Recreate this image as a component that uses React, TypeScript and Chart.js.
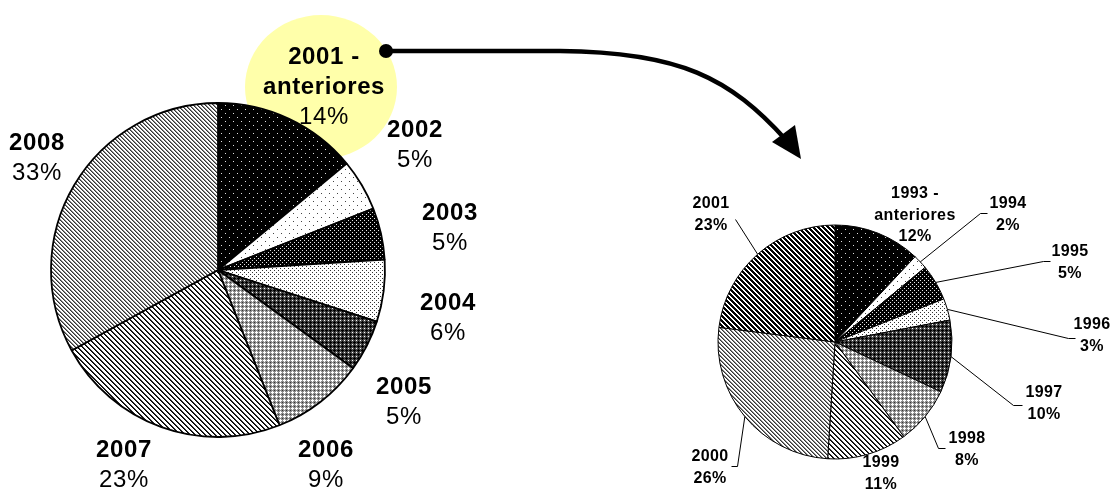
import React, { useEffect, useRef } from "react";
import { Chart, registerables } from "chart.js";

Chart.register(...registerables);

const W = 1115;
const H = 492;

// ---- data ----
const recentCategories = ["2001 - anteriores", "2002", "2003", "2004", "2005", "2006", "2007", "2008"];
const recentShares = [14, 5, 5, 6, 5, 9, 23, 33];
const recentYearLines = [["2001 -", "anteriores"], ["2002"], ["2003"], ["2004"], ["2005"], ["2006"], ["2007"], ["2008"]];

const olderCategories = ["1993 - anteriores", "1994", "1995", "1996", "1997", "1998", "1999", "2000", "2001"];
const olderShares = [12, 2, 5, 3, 10, 8, 11, 26, 23];
const olderYearLines = [["1993 -", "anteriores"], ["1994"], ["1995"], ["1996"], ["1997"], ["1998"], ["1999"], ["2000"], ["2001"]];

// ---- layout (not data) ----
const LEFT_CENTER = { x: 218, y: 270, r: 167 };
const RIGHT_CENTER = { x: 835, y: 342, r: 117 };

// label anchor [x, firstLineY]
const recentLabelPos = [
  [324, 57], [415, 130], [450, 213], [448, 303], [404, 387], [326, 450], [124, 450], [37, 143],
];
const olderLabelPos = [
  [915, 194], [1008, 204], [1070, 252], [1092, 325], [1044, 393], [967, 439], [881, 463], [710, 457], [711, 204],
];
// leader line bends: null = no leader; otherwise list of points after the arc point
const olderLeaders: (number[][] | null)[] = [
  null,
  [[980, 213], [987, 213]],
  [[1043, 261], [1050, 261]],
  [[1068, 338], [1075, 338]],
  [[1013, 405], [1022, 405]],
  [[938, 448], [945, 448]],
  null,
  [[737, 466], [731, 466]],
  [[735, 219]],
];

const FONT = '"Liberation Sans", Arial, Helvetica, sans-serif';

function mod(a: number, n: number) {
  return ((a % n) + n) % n;
}

function makeTile(
  ctx: CanvasRenderingContext2D,
  w: number,
  h: number,
  bg: string,
  fn: (x: number, y: number) => string | null
): CanvasPattern {
  const c = document.createElement("canvas");
  c.width = w;
  c.height = h;
  const g = c.getContext("2d")!;
  g.fillStyle = bg;
  g.fillRect(0, 0, w, h);
  for (let y = 0; y < h; y++) {
    for (let x = 0; x < w; x++) {
      const col = fn(x, y);
      if (col) {
        g.fillStyle = col;
        g.fillRect(x, y, 1, 1);
      }
    }
  }
  return ctx.createPattern(c, "repeat")!;
}

function makePatterns(ctx: CanvasRenderingContext2D): CanvasPattern[] {
  const sparse = (x: number, y: number) => (x === 1 && y === 1) || (x === 5 && y === 5);
  const dense = (x: number, y: number) => (x === 0 && y === 0) || (x === 2 && y === 2);
  return [
    makeTile(ctx, 8, 8, "#000", (x, y) => (sparse(x, y) ? "#e0e0e0" : null)),
    makeTile(ctx, 8, 8, "#fff", (x, y) => (sparse(x, y) ? "#444" : null)),
    makeTile(ctx, 4, 4, "#000", (x, y) => (dense(x, y) ? "#e8e8e8" : null)),
    makeTile(ctx, 4, 4, "#fff", (x, y) => (dense(x, y) ? "#333" : null)),
    makeTile(ctx, 4, 4, "#4a4a4a", (x, y) => {
      if (x === 0 && y === 0) return "#fff";
      if ((x === 2 && y !== 0) || (y === 2 && x !== 0)) return "#000";
      return null;
    }),
    makeTile(ctx, 4, 4, "#8c8c8c", (x, y) => {
      if ((x === 0 && y !== 2) || (y === 0 && x !== 2)) return "#fff";
      if (x === 2 && y === 2) return "#333";
      return null;
    }),
    makeTile(ctx, 5, 5, "#fff", (x, y) => {
      const d = mod(x - y, 5);
      if (d === 0) return "#000";
      if (d === 1) return "#333";
      return null;
    }),
    makeTile(ctx, 4, 4, "#fff", (x, y) => {
      const d = mod(x - y, 4);
      if (d === 0) return "#333";
      if (d === 1) return "#8a8a8a";
      return null;
    }),
    makeTile(ctx, 5, 5, "#fff", (x, y) => (mod(x - y, 5) < 3 ? "#000" : null)),
  ];
}

function drawLabel(
  ctx: CanvasRenderingContext2D,
  x: number,
  y: number,
  yearLines: string[],
  pct: string,
  size: number,
  step: number,
  pctBold: boolean,
  spacing: string
) {
  ctx.save();
  ctx.fillStyle = "#000";
  ctx.textAlign = "center";
  ctx.textBaseline = "middle";
  (ctx as any).letterSpacing = spacing;
  let yy = y;
  ctx.font = `bold ${size}px ${FONT}`;
  for (const l of yearLines) {
    ctx.fillText(l, x, yy);
    yy += step;
  }
  ctx.font = `${pctBold ? "bold " : ""}${size}px ${FONT}`;
  ctx.fillText(pct, x, yy);
  ctx.restore();
}

const leftOverlay = {
  id: "leftOverlay",
  beforeDatasetsDraw(chart: any) {
    const ctx: CanvasRenderingContext2D = chart.ctx;
    ctx.save();
    ctx.fillStyle = "#ffffaa";
    ctx.beginPath();
    ctx.ellipse(321, 87, 76, 72, 0, 0, Math.PI * 2);
    ctx.fill();
    ctx.restore();
  },
  afterDraw(chart: any) {
    const ctx: CanvasRenderingContext2D = chart.ctx;
    recentShares.forEach((v, i) => {
      const [x, y] = recentLabelPos[i];
      drawLabel(ctx, x, y, recentYearLines[i], `${v}%`, 24, 30, false, "0.6px");
    });
    // arrow
    ctx.save();
    ctx.strokeStyle = "#000";
    ctx.fillStyle = "#000";
    ctx.lineWidth = 4.5;
    ctx.beginPath();
    ctx.arc(386, 51, 7, 0, Math.PI * 2);
    ctx.fill();
    ctx.beginPath();
    ctx.moveTo(386, 51);
    ctx.lineTo(560, 51);
    ctx.bezierCurveTo(680, 52, 730, 78, 786, 140);
    ctx.stroke();
    ctx.beginPath();
    ctx.moveTo(801, 159);
    ctx.lineTo(772, 142);
    ctx.lineTo(795, 125);
    ctx.closePath();
    ctx.fill();
    ctx.restore();
  },
};

const rightOverlay = {
  id: "rightOverlay",
  afterDraw(chart: any) {
    const ctx: CanvasRenderingContext2D = chart.ctx;
    const meta = chart.getDatasetMeta(0);
    ctx.save();
    ctx.strokeStyle = "#000";
    ctx.lineWidth = 1;
    meta.data.forEach((el: any, i: number) => {
      const pts = olderLeaders[i];
      if (!pts) return;
      const p = el.getProps(["x", "y", "startAngle", "endAngle", "outerRadius"], true);
      const mid = (p.startAngle + p.endAngle) / 2;
      const sx = p.x + Math.cos(mid) * p.outerRadius;
      const sy = p.y + Math.sin(mid) * p.outerRadius;
      ctx.beginPath();
      ctx.moveTo(sx, sy);
      for (const [px, py] of pts) ctx.lineTo(px + 0.5, py + 0.5);
      ctx.stroke();
    });
    ctx.restore();
    olderShares.forEach((v, i) => {
      const [x, y] = olderLabelPos[i];
      drawLabel(ctx, x, y, olderYearLines[i], `${v}%`, 16, 21.5, true, "0.4px");
    });
  },
};

function pieConfig(
  labels: string[],
  values: number[],
  patterns: CanvasPattern[],
  center: { x: number; y: number; r: number },
  borderWidth: number,
  plugin: any
): any {
  const left = Math.max(0, 2 * center.x - W);
  const right = Math.max(0, W - 2 * center.x);
  const top = Math.max(0, 2 * center.y - H);
  const bottom = Math.max(0, H - 2 * center.y);
  return {
    type: "pie",
    data: {
      labels,
      datasets: [
        {
          data: values,
          backgroundColor: patterns.slice(0, values.length),
          borderColor: "#000",
          borderWidth,
          radius: center.r,
        },
      ],
    },
    options: {
      responsive: false,
      animation: false,
      devicePixelRatio: 1,
      events: [],
      layout: { padding: { left, right, top, bottom } },
      plugins: { legend: { display: false }, tooltip: { enabled: false } },
    },
    plugins: [plugin],
  };
}

export default function App() {
  const leftRef = useRef<HTMLCanvasElement>(null);
  const rightRef = useRef<HTMLCanvasElement>(null);

  useEffect(() => {
    const lc = leftRef.current!;
    const rc = rightRef.current!;
    const lctx = lc.getContext("2d")!;
    const rctx = rc.getContext("2d")!;
    const leftPatterns = makePatterns(lctx);
    const rightPatterns = makePatterns(rctx);
    const leftChart = new Chart(
      lc,
      pieConfig(recentCategories, recentShares, leftPatterns, LEFT_CENTER, 1.8, leftOverlay)
    );
    const rightChart = new Chart(
      rc,
      pieConfig(olderCategories, olderShares, rightPatterns, RIGHT_CENTER, 1, rightOverlay)
    );
    return () => {
      leftChart.destroy();
      rightChart.destroy();
    };
  }, []);

  const cs: React.CSSProperties = { position: "absolute", left: 0, top: 0, width: W, height: H };
  return (
    <div style={{ position: "absolute", left: 0, top: 0, width: W, height: H, background: "#fff" }}>
      <canvas ref={leftRef} width={W} height={H} style={cs} />
      <canvas ref={rightRef} width={W} height={H} style={cs} />
    </div>
  );
}
